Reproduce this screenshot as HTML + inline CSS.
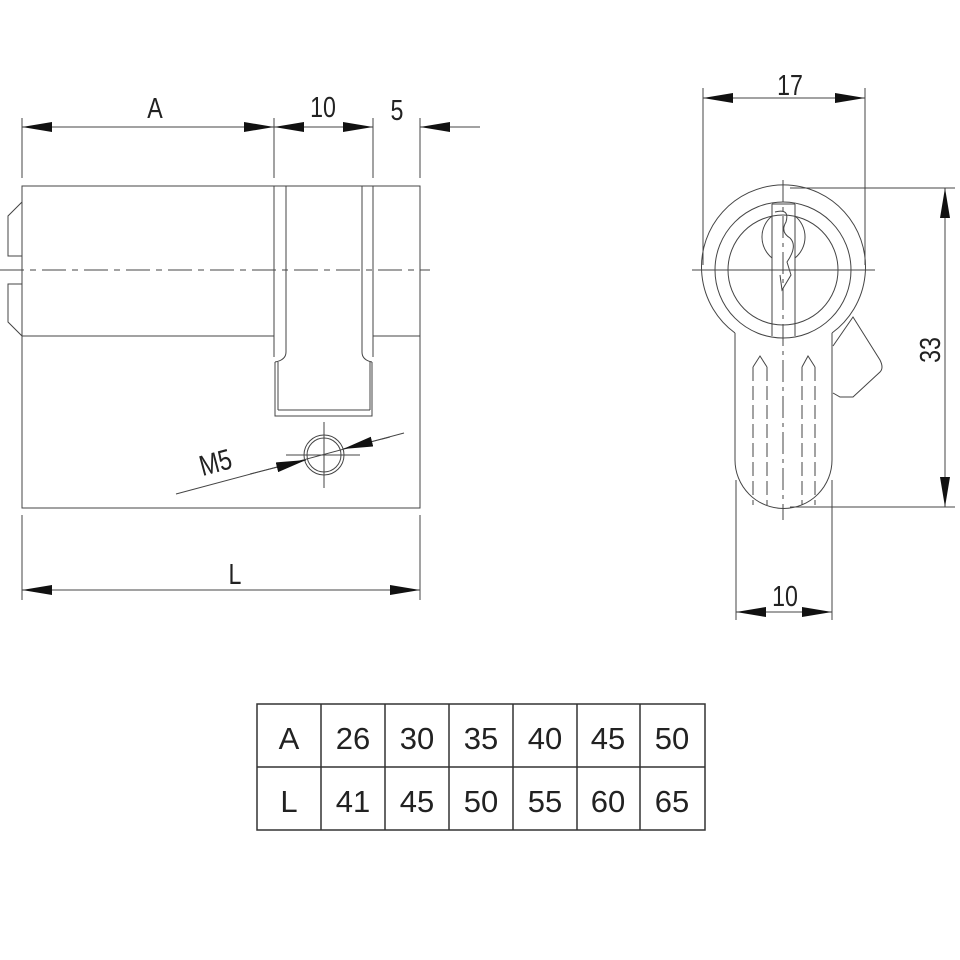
<!DOCTYPE html>
<html><head><meta charset="utf-8"><style>
html,body{margin:0;padding:0;background:#fff}
svg{display:block}
text{font-family:"Liberation Sans",sans-serif;fill:#222}
</style></head><body>
<svg width="960" height="960" viewBox="0 0 960 960" xmlns="http://www.w3.org/2000/svg">
<defs>
<marker id="a" viewBox="0 0 30 10" refX="30" refY="5" markerWidth="30" markerHeight="10" markerUnits="userSpaceOnUse" orient="auto-start-reverse"><path d="M0,0 L30,5 L0,10 Z" fill="#111"/></marker>
</defs>
<g stroke="#444" stroke-width="1" fill="none">
<line x1="22" y1="118" x2="22" y2="178"/>
<line x1="274" y1="118" x2="274" y2="178"/>
<line x1="373" y1="118" x2="373" y2="178"/>
<line x1="420" y1="118" x2="420" y2="178"/>
<line x1="22" y1="127" x2="274" y2="127" marker-start="url(#a)" marker-end="url(#a)"/>
<line x1="274" y1="127" x2="373" y2="127" marker-start="url(#a)" marker-end="url(#a)"/>
<line x1="420" y1="127" x2="480" y2="127"/>
<path d="M450,127 L420,127" marker-end="url(#a)"/>
<rect x="22" y="186" width="398" height="322"/>
<line x1="22" y1="336" x2="274" y2="336"/>
<line x1="373" y1="336" x2="420" y2="336"/>
<path d="M22,202 L8,216 L8,256 L22,256"/>
<path d="M22,284 L8,284 L8,322 L22,336"/>
<line x1="0" y1="270" x2="430" y2="270" stroke-dasharray="24,6,6,6"/>
<path d="M274,186 L274,357 M286,186 L286,352 Q286,360 275,362"/>
<path d="M373,186 L373,357 M362,186 L362,352 Q362,360 372,362"/>
<path d="M275,362 L275,416 L372,416 L372,362"/>
<line x1="278" y1="410" x2="370" y2="410"/>
<line x1="278" y1="362" x2="278" y2="410"/>
<line x1="370" y1="362" x2="370" y2="410"/>
<circle cx="324" cy="455" r="20"/>
<circle cx="324" cy="455" r="17"/>
<line x1="324" y1="422" x2="324" y2="488"/>
<line x1="286" y1="455" x2="360" y2="455"/>
<line x1="176" y1="494" x2="404" y2="433"/>
<path d="M250,474 L306,460" marker-end="url(#a)"/>
<path d="M390,437 L343,449" marker-end="url(#a)" />
<line x1="22" y1="515" x2="22" y2="600"/>
<line x1="420" y1="515" x2="420" y2="600"/>
<line x1="22" y1="590" x2="420" y2="590" marker-start="url(#a)" marker-end="url(#a)"/>
<line x1="703" y1="88" x2="703" y2="265"/>
<line x1="865" y1="88" x2="865" y2="265"/>
<line x1="703" y1="98" x2="865" y2="98" marker-start="url(#a)" marker-end="url(#a)"/>
<line x1="790" y1="188" x2="955" y2="188"/>
<line x1="790" y1="507" x2="955" y2="507"/>
<line x1="945" y1="188" x2="945" y2="507" marker-start="url(#a)" marker-end="url(#a)"/>
<line x1="736" y1="480" x2="736" y2="620"/>
<line x1="832" y1="480" x2="832" y2="620"/>
<line x1="736" y1="612" x2="832" y2="612" marker-start="url(#a)" marker-end="url(#a)"/>
<path d="M735,333 A82,82 0 1 1 832,333"/>
<path d="M735,333 L735,460 A48.5,48.5 0 0 0 832,460 L832,333"/>
<circle cx="783" cy="270" r="68"/>
<circle cx="783" cy="270" r="55"/>
<path d="M772,204 L772,336 M795,204 L795,336 M772,204 L795,204"/>
<path d="M772,216 A27,27 0 0 0 772,258 M795,216 A27,27 0 0 1 795,258"/>
<path d="M775,212 Q790,208 786,222 Q780,232 790,238 Q798,246 787,262 L791,275 L782,290 L780,275" />
<line x1="692" y1="270" x2="875" y2="270"/>
<line x1="783" y1="180" x2="783" y2="520" stroke-dasharray="22,5,4,5"/>
<path d="M833,346 L853,317 L880,360 Q884,368 880,372 L853,397 L840,397 L833,393"/>
<path d="M753,367 L760,356 L767,367 M802,367 L808,356 L815,367"/>
<g stroke-dasharray="14,5">
<line x1="753" y1="367" x2="753" y2="505"/><line x1="767" y1="367" x2="767" y2="505"/>
<line x1="802" y1="367" x2="802" y2="505"/><line x1="815" y1="367" x2="815" y2="505"/>
</g>
<rect x="257" y="704" width="448" height="126" stroke="#333" stroke-width="1.5"/>
<line x1="257" y1="767" x2="705" y2="767" stroke="#333" stroke-width="1.5"/>
<g stroke="#333" stroke-width="1.5">
<line x1="321" y1="704" x2="321" y2="830"/><line x1="385" y1="704" x2="385" y2="830"/>
<line x1="449" y1="704" x2="449" y2="830"/><line x1="513" y1="704" x2="513" y2="830"/>
<line x1="577" y1="704" x2="577" y2="830"/><line x1="640" y1="704" x2="640" y2="830"/>
</g>
</g>
<g font-size="29" text-anchor="middle">
<text transform="translate(155 118) scale(0.8 1)">A</text>
<text transform="translate(323 117) scale(0.8 1)">10</text>
<text transform="translate(397 120) scale(0.8 1)">5</text>
<text transform="translate(235 584) scale(0.8 1)">L</text>
<text transform="translate(790 95) scale(0.8 1)">17</text>
<text transform="translate(785 606) scale(0.8 1)">10</text>
<text transform="translate(940 350) rotate(-90) scale(0.8 1)">33</text>
<text transform="translate(218 472) rotate(-15) scale(0.8 1)">M5</text>
</g>
<g font-size="31" text-anchor="middle">
<text x="289" y="749">A</text><text x="353" y="749">26</text><text x="417" y="749">30</text><text x="481" y="749">35</text><text x="545" y="749">40</text><text x="608" y="749">45</text><text x="672" y="749">50</text>
<text x="289" y="812">L</text><text x="353" y="812">41</text><text x="417" y="812">45</text><text x="481" y="812">50</text><text x="545" y="812">55</text><text x="608" y="812">60</text><text x="672" y="812">65</text>
</g>
</svg>
</body></html>
